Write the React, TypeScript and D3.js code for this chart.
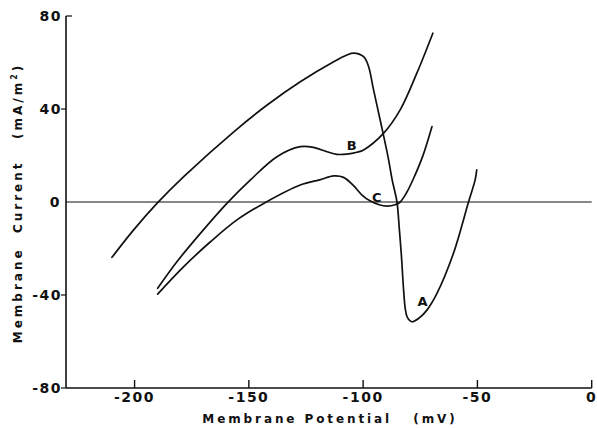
import React from "react";
import * as d3 from "d3";

// Membrane potential (mV) and membrane current (mA/m²) for the three I–V curves
const curveA_V = [-209.9, -200.4, -189.9, -178.5, -156.6, -142, -127.5, -112.9, -107.1, -104.2, -99.8, -97.6, -95.6, -93.4, -91.2, -89.0, -87.3, -85.2, -84.2, -83.3, -82.3, -81.6, -80.7, -78.7, -75.5, -72.1, -67.7, -60.5, -53.9, -51, -50.3];
const curveA_I = [-23.8, -12, -0.3, 10.9, 30.2, 41.7, 51.7, 60.3, 63.2, 64, 62.5, 58.2, 49, 39.1, 29.2, 18.9, 9.5, 0, -11.2, -22.4, -37.8, -45.6, -49.5, -51.5, -49.9, -46.5, -39.3, -22.1, 0, 9.5, 13.8];

const curveB_V = [-189.9, -181.4, -171.2, -159.5, -149.3, -137.7, -127.5, -121.7, -115.8, -111.5, -107.1, -102.7, -99.8, -91.1, -83.8, -76.5, -69.5];
const curveB_I = [-37.1, -25.6, -13.5, -0.5, 9.5, 19.5, 23.8, 23.5, 21.6, 20.5, 20.6, 21.4, 22.4, 29.5, 39.6, 55.4, 72.6];

const curveC_V = [-189.9, -178.5, -166.8, -155.2, -143.5, -127.5, -118.7, -112.9, -108.6, -104.2, -100.5, -97, -93, -89.6, -86, -83.8, -81, -78, -74, -69.9];
const curveC_I = [-39.6, -27.8, -17.1, -7.7, -0.6, 7.3, 9.6, 11.2, 10.6, 7, 3, 0.5, -1.2, -1.8, -1.2, 0, 4, 10, 19.5, 32.4];

const curveLabels = ["A", "B", "C"];
const labelV = [-74, -105, -94];
const labelI = [-43, 24.5, 2];

const xTicks = [-200, -150, -100, -50, 0];
const yTicks = [80, 40, 0, -40, -80];

const W = 597;
const H = 428;

export default function App() {
  const x = d3.scaleLinear().domain([-230, 0]).range([66, 591.7]);
  const y = d3.scaleLinear().domain([-80, 80]).range([388, 16]);

  const line = d3
    .line<[number, number]>()
    .x((d) => x(d[0]))
    .y((d) => y(d[1]))
    .curve(d3.curveCatmullRom.alpha(0.5));

  const series: [number[], number[]][] = [
    [curveA_V, curveA_I],
    [curveB_V, curveB_I],
    [curveC_V, curveC_I],
  ];

  const font = "'DejaVu Sans', sans-serif";

  return (
    <svg
      width={W}
      height={H}
      style={{ position: "absolute", left: 0, top: 0, background: "#fff" }}
    >
      {/* axes frame */}
      <line x1={x(-230)} x2={x(-230)} y1={y(80)} y2={y(-80)} stroke="#111" strokeWidth={1.6} />
      <line x1={x(-230)} x2={x(0)} y1={y(-80)} y2={y(-80)} stroke="#111" strokeWidth={1.6} />
      {/* zero-current reference line */}
      <line x1={x(-230)} x2={x(0)} y1={y(0)} y2={y(0)} stroke="#111" strokeWidth={1.1} />

      {xTicks.map((t) => (
        <g key={`xt${t}`}>
          <line x1={x(t)} x2={x(t)} y1={y(-80)} y2={y(-80) - 8} stroke="#111" strokeWidth={1.4} />
          <text
            x={x(t)}
            y={402}
            textAnchor="middle"
            fontFamily={font}
            fontWeight="bold"
            fontSize={14}
            letterSpacing={1.5}
            fill="#111"
          >
            {t === 0 ? "0" : `-${Math.abs(t)}`}
          </text>
        </g>
      ))}

      {yTicks.map((t) => (
        <g key={`yt${t}`}>
          {t !== 0 && (
            <line
              x1={t === 80 ? x(-230) : x(-230) - 5}
              x2={t === 80 ? x(-230) + 6 : x(-230)}
              y1={y(t)}
              y2={y(t)}
              stroke="#111"
              strokeWidth={1.2}
            />
          )}
          <text
            x={t === 0 ? 61 : 62}
            y={y(t) + 5}
            textAnchor="end"
            fontFamily={font}
            fontWeight="bold"
            fontSize={14}
            letterSpacing={1.5}
            fill="#111"
          >
            {t < 0 ? `-${Math.abs(t)}` : `${t}`}
          </text>
        </g>
      ))}

      {series.map(([vs, is], i) => (
        <path
          key={`c${i}`}
          d={line(vs.map((v, k) => [v, is[k]] as [number, number])) || ""}
          fill="none"
          stroke="#111"
          strokeWidth={1.7}
          strokeLinejoin="round"
          strokeLinecap="round"
        />
      ))}

      {curveLabels.map((l, i) => (
        <text
          key={`l${l}`}
          x={x(labelV[i])}
          y={y(labelI[i])}
          textAnchor="middle"
          dominantBaseline="central"
          fontFamily={font}
          fontWeight="bold"
          fontSize={13}
          fill="#111"
        >
          {l}
        </text>
      ))}

      <text
        x={330}
        y={423}
        textAnchor="middle"
        fontFamily={font}
        fontWeight="bold"
        fontSize={12}
        letterSpacing={2.9}
        fill="#111"
        style={{ whiteSpace: "pre" }}
      >
        {"Membrane Potential   (mV)"}
      </text>

      <text
        transform={`translate(22, 203) rotate(-90)`}
        textAnchor="middle"
        fontFamily={font}
        fontWeight="bold"
        fontSize={12}
        letterSpacing={3}
        fill="#111"
        style={{ whiteSpace: "pre" }}
      >
        {"Membrane  Current   (mA/m"}
        <tspan dy={-5} fontSize={8}>2</tspan>
        <tspan dy={5}>)</tspan>
      </text>
    </svg>
  );
}
